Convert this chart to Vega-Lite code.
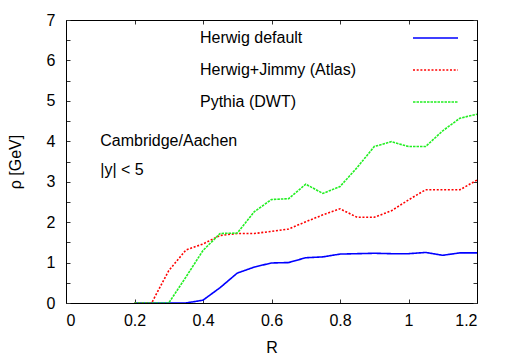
{
  "$schema": "https://vega.github.io/schema/vega-lite/v6.json",
  "width": 411,
  "height": 283,
  "autosize": "none",
  "padding": {"left": 66, "top": 20, "right": 29, "bottom": 51},
  "background": "white",
  "config": {
    "font": "Liberation Sans",
    "view": {"stroke": null},
    "axis": {"grid": false, "domainColor": "#000", "tickColor": "#333", "labelColor": "#000", "titleColor": "#000", "labelFontSize": 16, "titleFontSize": 16, "titleFontWeight": "normal", "tickSize": -4, "domainWidth": 1, "tickWidth": 1}
  },
  "data": {"values": [
    {"R":0.2,"rho":0,"s":"Herwig default"},{"R":0.25,"rho":0,"s":"Herwig default"},{"R":0.3,"rho":0,"s":"Herwig default"},{"R":0.35,"rho":0,"s":"Herwig default"},{"R":0.4,"rho":0.07,"s":"Herwig default"},{"R":0.45,"rho":0.38,"s":"Herwig default"},{"R":0.5,"rho":0.74,"s":"Herwig default"},{"R":0.55,"rho":0.89,"s":"Herwig default"},{"R":0.6,"rho":0.99,"s":"Herwig default"},{"R":0.65,"rho":1.0,"s":"Herwig default"},{"R":0.7,"rho":1.12,"s":"Herwig default"},{"R":0.75,"rho":1.14,"s":"Herwig default"},{"R":0.8,"rho":1.21,"s":"Herwig default"},{"R":0.85,"rho":1.22,"s":"Herwig default"},{"R":0.9,"rho":1.23,"s":"Herwig default"},{"R":0.95,"rho":1.22,"s":"Herwig default"},{"R":1.0,"rho":1.22,"s":"Herwig default"},{"R":1.05,"rho":1.25,"s":"Herwig default"},{"R":1.1,"rho":1.18,"s":"Herwig default"},{"R":1.15,"rho":1.24,"s":"Herwig default"},{"R":1.2,"rho":1.24,"s":"Herwig default"},
    {"R":0.2,"rho":0,"s":"Herwig+Jimmy (Atlas)"},{"R":0.25,"rho":0,"s":"Herwig+Jimmy (Atlas)"},{"R":0.3,"rho":0.8,"s":"Herwig+Jimmy (Atlas)"},{"R":0.35,"rho":1.31,"s":"Herwig+Jimmy (Atlas)"},{"R":0.4,"rho":1.46,"s":"Herwig+Jimmy (Atlas)"},{"R":0.45,"rho":1.67,"s":"Herwig+Jimmy (Atlas)"},{"R":0.5,"rho":1.72,"s":"Herwig+Jimmy (Atlas)"},{"R":0.55,"rho":1.72,"s":"Herwig+Jimmy (Atlas)"},{"R":0.6,"rho":1.77,"s":"Herwig+Jimmy (Atlas)"},{"R":0.65,"rho":1.83,"s":"Herwig+Jimmy (Atlas)"},{"R":0.7,"rho":2.01,"s":"Herwig+Jimmy (Atlas)"},{"R":0.75,"rho":2.18,"s":"Herwig+Jimmy (Atlas)"},{"R":0.8,"rho":2.33,"s":"Herwig+Jimmy (Atlas)"},{"R":0.85,"rho":2.12,"s":"Herwig+Jimmy (Atlas)"},{"R":0.9,"rho":2.12,"s":"Herwig+Jimmy (Atlas)"},{"R":0.95,"rho":2.28,"s":"Herwig+Jimmy (Atlas)"},{"R":1.0,"rho":2.55,"s":"Herwig+Jimmy (Atlas)"},{"R":1.05,"rho":2.8,"s":"Herwig+Jimmy (Atlas)"},{"R":1.1,"rho":2.8,"s":"Herwig+Jimmy (Atlas)"},{"R":1.15,"rho":2.8,"s":"Herwig+Jimmy (Atlas)"},{"R":1.2,"rho":3.04,"s":"Herwig+Jimmy (Atlas)"},
    {"R":0.2,"rho":0,"s":"Pythia (DWT)"},{"R":0.25,"rho":0,"s":"Pythia (DWT)"},{"R":0.3,"rho":0,"s":"Pythia (DWT)"},{"R":0.35,"rho":0.64,"s":"Pythia (DWT)"},{"R":0.4,"rho":1.3,"s":"Pythia (DWT)"},{"R":0.45,"rho":1.72,"s":"Pythia (DWT)"},{"R":0.5,"rho":1.73,"s":"Pythia (DWT)"},{"R":0.55,"rho":2.26,"s":"Pythia (DWT)"},{"R":0.6,"rho":2.56,"s":"Pythia (DWT)"},{"R":0.65,"rho":2.58,"s":"Pythia (DWT)"},{"R":0.7,"rho":2.94,"s":"Pythia (DWT)"},{"R":0.75,"rho":2.71,"s":"Pythia (DWT)"},{"R":0.8,"rho":2.88,"s":"Pythia (DWT)"},{"R":0.85,"rho":3.35,"s":"Pythia (DWT)"},{"R":0.9,"rho":3.87,"s":"Pythia (DWT)"},{"R":0.95,"rho":3.99,"s":"Pythia (DWT)"},{"R":1.0,"rho":3.87,"s":"Pythia (DWT)"},{"R":1.05,"rho":3.87,"s":"Pythia (DWT)"},{"R":1.1,"rho":4.26,"s":"Pythia (DWT)"},{"R":1.15,"rho":4.57,"s":"Pythia (DWT)"},{"R":1.2,"rho":4.67,"s":"Pythia (DWT)"}
  ]},
  "layer": [
    {
      "mark": {"type": "line", "strokeWidth": 1.6, "clip": true},
      "encoding": {
        "x": {"field": "R", "type": "quantitative", "scale": {"domain": [0, 1.2], "nice": false, "zero": false},
              "axis": {"orient": "bottom", "title": "R", "values": [0,0.2,0.4,0.6,0.8,1,1.2], "labelPadding": 13, "titleBaseline": "alphabetic", "titleY": 49, "labelExpr": "format(datum.value, '.1~f')"}},
        "y": {"field": "rho", "type": "quantitative", "scale": {"domain": [0, 7], "nice": false},
              "axis": {"orient": "left", "title": "ρ [GeV]", "values": [0,0.5,1,1.5,2,2.5,3,3.5,4,4.5,5,5.5,6,6.5,7], "labelExpr": "datum.value % 1 == 0 ? format(datum.value, 'd') : ''", "labelPadding": 15, "titleX": -46, "titleY": 141.5, "titleAngle": -90, "titleBaseline": "alphabetic", "titleAlign": "center"}},
        "color": {"field": "s", "type": "nominal",
          "scale": {"domain": ["Herwig default", "Herwig+Jimmy (Atlas)", "Pythia (DWT)"], "range": ["#0000ff", "#ff0000", "#22ee22"]},
          "legend": {"title": null, "orient": "none", "legendX": 346, "legendY": -5.5, "symbolType": "stroke", "symbolSize": 2025, "symbolStrokeWidth": 1.6, "labelFontSize": 16, "labelColor": "#000", "labelOffset": -259, "rowPadding": -19.4, "padding": 0, "labelLimit": 300}},
        "strokeDash": {"field": "s", "type": "nominal",
          "scale": {"domain": ["Herwig default", "Herwig+Jimmy (Atlas)", "Pythia (DWT)"], "range": [[1, 0], [2, 1.7], [2.5, 1]]},
          "legend": null}
      }
    },
    {
      "data": {"values": [{}]},
      "mark": {"type": "text", "fontSize": 16, "align": "left", "baseline": "middle", "color": "#000"},
      "encoding": {
        "x": {"datum": 0.1, "type": "quantitative", "scale": {"domain": [0, 1.2], "nice": false, "zero": false},
              "axis": {"orient": "top", "title": null, "labels": false, "values": [0,0.2,0.4,0.6,0.8,1,1.2]}},
        "y": {"datum": 4.0, "type": "quantitative", "scale": {"domain": [0, 7], "nice": false},
              "axis": {"orient": "right", "title": null, "labels": false, "values": [0,0.5,1,1.5,2,2.5,3,3.5,4,4.5,5,5.5,6,6.5,7]}},
        "text": {"value": "Cambridge/Aachen"}
      }
    },
    {
      "data": {"values": [{}]},
      "mark": {"type": "text", "fontSize": 16, "align": "left", "baseline": "middle", "color": "#000"},
      "encoding": {
        "x": {"datum": 0.1, "type": "quantitative", "axis": null},
        "y": {"datum": 3.3, "type": "quantitative", "axis": null},
        "text": {"value": "|y| < 5"}
      }
    }
  ],
  "resolve": {"axis": {"x": "independent", "y": "independent"}}
}
